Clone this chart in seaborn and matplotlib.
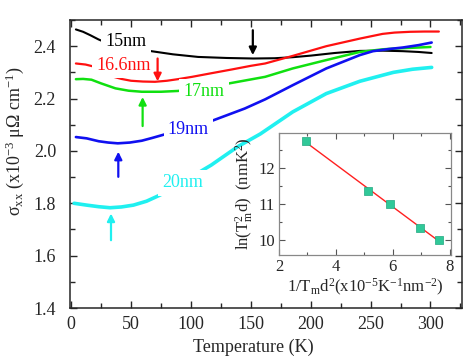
import numpy as np
import pandas as pd
import matplotlib
matplotlib.use("Agg")
import matplotlib.pyplot as plt
from matplotlib.ticker import MultipleLocator
import seaborn as sns

# sigma_xx(T) curves, one per film thickness
t_15 = [4, 10, 16, 22.8, 30, 45, 67, 85, 106, 130, 152, 170, 185, 200, 220, 241, 260, 277, 290, 301]
s_15 = [2.464, 2.455, 2.442, 2.426, 2.412, 2.395, 2.381, 2.369, 2.359, 2.355, 2.353, 2.354, 2.358,
        2.364, 2.374, 2.382, 2.383, 2.381, 2.378, 2.374]

t_166 = [4, 12, 20, 27, 34, 42, 50, 60, 70, 80, 89, 101, 115, 134, 150, 162, 185, 213, 241, 260,
         270, 283, 295, 307]
s_166 = [2.334, 2.330, 2.321, 2.303, 2.285, 2.275, 2.268, 2.265, 2.264, 2.268, 2.274, 2.283, 2.295,
         2.311, 2.325, 2.334, 2.363, 2.400, 2.429, 2.447, 2.452, 2.455, 2.456, 2.456]

t_17 = [4, 10, 17, 25, 37, 48, 59, 75, 89, 110, 132, 150, 162, 185, 213, 241, 260, 270, 285, 300]
s_17 = [2.274, 2.275, 2.272, 2.258, 2.239, 2.230, 2.226, 2.226, 2.229, 2.240, 2.258, 2.273, 2.283,
        2.315, 2.347, 2.378, 2.388, 2.391, 2.394, 2.397]

t_19 = [4, 13, 23, 31, 39, 49, 59, 68, 78, 98, 117, 131, 145, 162, 185, 213, 241, 252, 265, 277, 290, 301]
s_19 = [2.053, 2.048, 2.037, 2.032, 2.029, 2.032, 2.039, 2.050, 2.063, 2.088, 2.114, 2.138, 2.162,
        2.197, 2.251, 2.315, 2.366, 2.381, 2.389, 2.395, 2.404, 2.414]

t_20 = [2.5, 13, 23, 32.5, 42, 52, 63, 74, 92, 110, 117, 139, 158, 185, 213, 241, 269, 285, 301]
s_20 = [1.800, 1.793, 1.787, 1.783, 1.786, 1.793, 1.808, 1.831, 1.875, 1.927, 1.946, 2.016, 2.065,
        2.149, 2.219, 2.266, 2.300, 2.312, 2.319]

labels = ["15nm", "16.6nm", "17nm", "19nm", "20nm"]
colors = ["black", "#ff1010", "#10e010", "#1010f0", "#20f0f0"]
widths = [1.5, 1.6, 1.8, 1.9, 2.6]
label_pos = [(45.8, 2.419), (43.6, 2.327), (111, 2.228), (97.8, 2.083), (93.3, 1.878)]

# arrows marking the conductivity minimum T_m
arrow_T = [151.7, 72.2, 59.7, 39.4, 33.3]
arrow_from = [2.461, 2.353, 2.095, 1.901, 1.659]
arrow_to = [2.366, 2.266, 2.206, 1.997, 1.761]

# inset: ln(Tm^2 d) vs 1/(Tm d^2)
inv_tmd2 = [2.95, 5.13, 5.89, 6.97, 7.62]
ln_tm2d = [12.76, 11.35, 11.00, 10.34, 10.01]

sns.set_style("ticks")
plt.rcParams["font.family"] = ["Liberation Serif", "DejaVu Serif"]
plt.rcParams["mathtext.fontset"] = "custom"
plt.rcParams["mathtext.rm"] = "Liberation Serif"
plt.rcParams["mathtext.it"] = "Liberation Serif:italic"

fig = plt.figure(figsize=(4.63, 3.6), dpi=100)
ax = fig.add_axes([0.151, 0.1444, 0.846, 0.80])

series = [(t_15, s_15), (t_166, s_166), (t_17, s_17), (t_19, s_19), (t_20, s_20)]
for (tt, ss), c, w in zip(series, colors, widths):
    df = pd.DataFrame({"T": tt, "s": ss})
    sns.lineplot(data=df, x="T", y="s", color=c, lw=w, ax=ax, sort=False, zorder=2)

for lab, (x, y), c in zip(labels, label_pos, colors):
    ax.text(x, y, lab, color=c, fontsize=13, ha="center", va="center", zorder=4,
            bbox=dict(facecolor="white", edgecolor="none", pad=3))

for x, y0, y1, c in zip(arrow_T, arrow_from, arrow_to, colors):
    ax.annotate("", xy=(x, y1), xytext=(x, y0), zorder=5,
                arrowprops=dict(arrowstyle="-|>", color=c, lw=1.6, mutation_scale=11,
                                shrinkA=0, shrinkB=0))

ax.set_xlim(-1, 326)
ax.set_ylim(1.4, 2.5)
ax.xaxis.set_major_locator(MultipleLocator(50))
ax.xaxis.set_minor_locator(MultipleLocator(25))
ax.yaxis.set_major_locator(MultipleLocator(0.2))
ax.yaxis.set_minor_locator(MultipleLocator(0.1))
ax.tick_params(which="both", direction="in", top=True, right=True, labelsize=13, width=1)
ax.tick_params(which="major", length=5)
ax.tick_params(which="minor", length=3.5)
ax.tick_params(axis="y", pad=10)
ax.tick_params(axis="x", pad=6)
for sp in ax.spines.values():
    sp.set_linewidth(1.1)
ax.set_xlabel("Temperature (K)", fontsize=13)
ax.set_ylabel("σ$_{\\mathrm{xx}}$ (x10$^{\\mathrm{-3}}$ μΩ cm$^{\\mathrm{-1}}$)", fontsize=13)
ax.xaxis.set_label_coords(0.467, -0.105)
ax.yaxis.set_label_coords(-0.112, 0.58)

# inset
ins = fig.add_axes([0.6026, 0.2917, 0.3714, 0.3389])
sns.regplot(x=inv_tmd2, y=ln_tm2d, ax=ins, scatter=False, ci=None,
            line_kws=dict(color="#ff2020", lw=1))
sns.scatterplot(x=inv_tmd2, y=ln_tm2d, ax=ins, marker="s", s=36, color="#30c898",
                edgecolor="#20a880", linewidth=0.5, zorder=3)
ins.set_xlim(2, 8.05)
ins.set_ylim(9.58, 12.98)
ins.xaxis.set_major_locator(MultipleLocator(2))
ins.xaxis.set_minor_locator(MultipleLocator(1))
ins.yaxis.set_major_locator(MultipleLocator(1))
ins.yaxis.set_minor_locator(MultipleLocator(0.5))
ins.tick_params(which="both", direction="in", top=True, right=True, labelsize=12,
                color="#555555", width=0.8, pad=3)
ins.tick_params(which="major", length=4)
ins.tick_params(which="minor", length=2.5)
for sp in ins.spines.values():
    sp.set_color("#888888")
    sp.set_linewidth(0.9)
ins.set_xlabel("1/T$_{\\mathrm{m}}$d$^{\\mathrm{2}}$(x10$^{\\mathrm{-5}}$K$^{\\mathrm{-1}}$nm$^{\\mathrm{-2}}$)",
               fontsize=12, labelpad=1)
ins.set_ylabel("ln(T$_{\\mathrm{m}}^{\\mathrm{2}}$d)  (nmK$^{\\mathrm{2}}$)", fontsize=12, labelpad=2)

fig.savefig("out.png", dpi=100)
